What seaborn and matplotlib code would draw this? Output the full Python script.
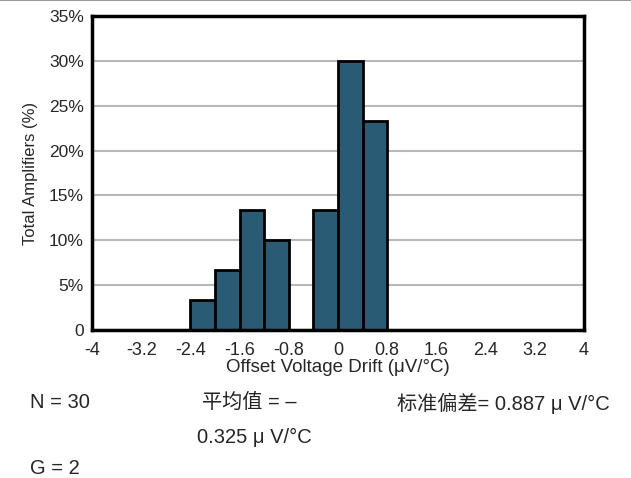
import matplotlib
matplotlib.use("Agg")
import matplotlib.pyplot as plt
import seaborn as sns
from matplotlib.lines import Line2D

# histogram data (bin left edges in uV/C, percent of amplifiers)
bin_left = [-2.4, -2.0, -1.6, -1.2, -0.8, -0.4, 0.0, 0.4]
bin_width = 0.4
percent = [3.33, 6.67, 13.33, 10.0, 0.0, 13.33, 30.0, 23.33]

x_ticks = [-4, -3.2, -2.4, -1.6, -0.8, 0, 0.8, 1.6, 2.4, 3.2, 4]
x_tick_labels = ["-4", "-3.2", "-2.4", "-1.6", "-0.8", "0", "0.8", "1.6", "2.4", "3.2", "4"]
y_ticks = [0, 5, 10, 15, 20, 25, 30, 35]
y_tick_labels = ["0", "5%", "10%", "15%", "20%", "25%", "30%", "35%"]

sns.set_style("white")
plt.rcParams['font.family'] = ['Liberation Sans', 'Noto Sans CJK SC', 'DejaVu Sans']

fig = plt.figure(figsize=(6.31, 4.78), dpi=100)
ax = fig.add_axes([0.146, 0.3096, 0.7795, 0.657])

centers = [b + bin_width / 2 for b in bin_left]
edges = bin_left + [bin_left[-1] + bin_width]
sns.histplot(x=centers, weights=percent, bins=edges, ax=ax,
             color="#2a5b74", alpha=1, edgecolor="black", linewidth=2)

ax.set_xlim(-4, 4)
ax.set_ylim(0, 35)
ax.set_xticks(x_ticks)
ax.set_xticklabels(x_tick_labels)
ax.set_yticks(y_ticks)
ax.set_yticklabels(y_tick_labels)
ax.tick_params(axis="x", labelsize=13, length=0, pad=8.5)
ax.tick_params(axis="y", labelsize=12.5, length=0, pad=6)
ax.yaxis.grid(True, color="#b8b8b8", linewidth=1.5, zorder=0)
ax.set_axisbelow(True)
for s in ax.spines.values():
    s.set_color("black")
    s.set_linewidth(2.5)

ax.set_xlabel("Offset Voltage Drift (\u03bcV/\u00b0C)", fontsize=13.5, labelpad=0)
ax.set_ylabel("Total Amplifiers (%)", fontsize=12, labelpad=8)

# stats text under the chart
fs = 14.5
fig.text(30 / 631, 1 - 402 / 478, "N = 30", fontsize=fs, va="center")
fig.text(202 / 631, 1 - 402 / 478, "平均值 = \u2013", fontsize=fs, va="center", color="#222222")
fig.text(197 / 631, 1 - 437 / 478, "0.325 \u03bc V/\u00b0C", fontsize=fs, va="center")
fig.text(397 / 631, 1 - 403 / 478, "标准偏差= 0.887 \u03bc V/\u00b0C", fontsize=fs, va="center")
fig.text(30 / 631, 1 - 468 / 478, "G = 2", fontsize=fs, va="center")

# thin border line at the top of the image
fig.add_artist(Line2D([0, 1], [0.999, 0.999], color="#999999", linewidth=1.5,
                      transform=fig.transFigure))

fig.savefig("out.png", dpi=100)
